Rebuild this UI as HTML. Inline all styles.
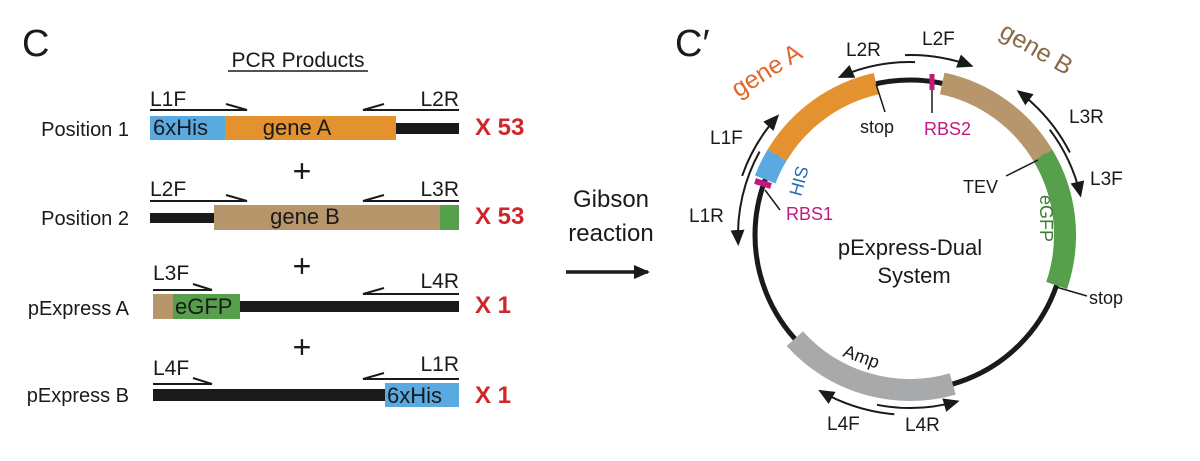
<!DOCTYPE html>
<html><head><meta charset="utf-8"><style>
html,body{margin:0;padding:0;background:#fff;}
svg{display:block;font-family:"Liberation Sans",sans-serif;}
</style></head><body>
<svg width="1200" height="461" viewBox="0 0 1200 461" xmlns="http://www.w3.org/2000/svg">
<defs>
<marker id="ah" markerUnits="userSpaceOnUse" markerWidth="16" markerHeight="14" refX="14" refY="7" orient="auto">
<path d="M0,0 L16,7 L0,14 Z" fill="#1a1a1a"/>
</marker>
</defs>
<!-- Left panel -->
<text x="22" y="56" font-size="38" fill="#1a1a1a">C</text>
<text x="298" y="67" font-size="21" text-anchor="middle" fill="#1a1a1a">PCR Products</text>
<line x1="228" y1="71" x2="368" y2="71" stroke="#1a1a1a" stroke-width="1.5"/>

<g font-size="20" fill="#1a1a1a" text-anchor="end">
<text x="129" y="136">Position 1</text>
<text x="129" y="225">Position 2</text>
<text x="129" y="315">pExpress A</text>
<text x="129" y="402">pExpress B</text>
</g>
<g font-size="21" fill="#1a1a1a">
<text x="150" y="106">L1F</text>
<text x="459" y="106" text-anchor="end">L2R</text>
<text x="150" y="196">L2F</text>
<text x="459" y="196" text-anchor="end">L3R</text>
<text x="153" y="280">L3F</text>
<text x="459" y="288" text-anchor="end">L4R</text>
<text x="153" y="375">L4F</text>
<text x="459" y="371" text-anchor="end">L1R</text>
</g>
<g stroke="#1a1a1a" stroke-width="2" fill="none">
<path d="M150,110 H247 L226,104"/>
<path d="M459,110 H363 L384,104"/>
<path d="M150,201 H247 L226,195"/>
<path d="M459,201 H363 L384,195"/>
<path d="M153,290 H212 L193,284"/>
<path d="M459,294 H363 L384,288"/>
<path d="M153,384 H212 L193,378"/>
<path d="M459,379 H363 L384,373"/>
</g>
<!-- Row 1 -->
<rect x="150" y="116" width="75" height="24" fill="#5aa9e0"/>
<rect x="225" y="116" width="171" height="24" fill="#e3922f"/>
<rect x="396" y="123" width="63" height="11" fill="#1a1a1a"/>
<text x="153" y="135" font-size="22" fill="#1a1a1a">6xHis</text>
<text x="297" y="135" font-size="22" text-anchor="middle" fill="#1a1a1a">gene A</text>
<!-- Row 2 -->
<rect x="150" y="213" width="64" height="10" fill="#1a1a1a"/>
<rect x="214" y="205" width="226" height="25" fill="#b8966c"/>
<rect x="440" y="205" width="19" height="25" fill="#56a04b"/>
<text x="305" y="224" font-size="22" text-anchor="middle" fill="#1a1a1a">gene B</text>
<!-- Row 3 -->
<rect x="153" y="294" width="20" height="25" fill="#b8966c"/>
<rect x="173" y="294" width="67" height="25" fill="#56a04b"/>
<rect x="240" y="301" width="219" height="11" fill="#1a1a1a"/>
<text x="175" y="314" font-size="22" fill="#1a1a1a">eGFP</text>
<!-- Row 4 -->
<rect x="153" y="389" width="232" height="12" fill="#1a1a1a"/>
<rect x="385" y="383" width="74" height="24" fill="#5aa9e0"/>
<text x="387" y="403" font-size="22" fill="#1a1a1a">6xHis</text>

<g font-size="24" font-weight="bold" fill="#d0262b">
<text x="475" y="135">X 53</text>
<text x="475" y="224">X 53</text>
<text x="475" y="313">X 1</text>
<text x="475" y="403">X 1</text>
</g>
<g font-size="32" fill="#1a1a1a" text-anchor="middle">
<text x="302" y="182">+</text>
<text x="302" y="277">+</text>
<text x="302" y="358">+</text>
</g>

<!-- Gibson -->
<text x="611" y="207" font-size="24" text-anchor="middle" fill="#1a1a1a">Gibson</text>
<text x="611" y="241" font-size="24" text-anchor="middle" fill="#1a1a1a">reaction</text>
<line x1="566" y1="272" x2="648" y2="272" stroke="#1a1a1a" stroke-width="3.5" marker-end="url(#ah)"/>

<!-- Right panel -->
<text x="675" y="56" font-size="38" fill="#1a1a1a">C′</text>
<circle cx="910" cy="235" r="155" fill="none" stroke="#1a1a1a" stroke-width="5"/>
<g fill="none" stroke-width="22">
<path d="M777.1,155.2 A155 155 0 0 1 876.2,83.7" stroke="#e3922f"/>
<path d="M765.2,179.5 A155 155 0 0 1 777.1,155.2" stroke="#5aa9e0"/>
<path d="M942.2,83.4 A155 155 0 0 1 1042.8,155.2" stroke="#b8966c"/>
<path d="M1042.8,155.2 A155 155 0 0 1 1056.6,285.5" stroke="#56a04b"/>
<path d="M952.7,384.0 A155 155 0 0 1 794.8,338.7" stroke="#a8a9ab"/>
</g>
<line x1="755" y1="181" x2="771" y2="186" stroke="#c2197f" stroke-width="6"/>
<line x1="932" y1="74" x2="932" y2="90" stroke="#c2197f" stroke-width="5"/>
<g stroke="#1a1a1a" stroke-width="1.5">
<line x1="876" y1="84" x2="885" y2="112"/>
<line x1="932" y1="90" x2="932" y2="113"/>
<line x1="765" y1="190" x2="780" y2="210"/>
<line x1="1038" y1="160" x2="1006" y2="176"/>
<line x1="1056" y1="287" x2="1087" y2="296"/>
</g>
<g font-size="18" fill="#1a1a1a">
<text x="860" y="133">stop</text>
<text x="963" y="193">TEV</text>
<text x="1089" y="304">stop</text>
</g>
<g font-size="18" fill="#c2197f">
<text x="924" y="135">RBS2</text>
<text x="786" y="220">RBS1</text>
</g>
<text transform="translate(801,197) rotate(-75)" font-size="18" fill="#2b6cb8">HIS</text>
<text transform="translate(1040,195) rotate(90)" font-size="18" fill="#3a7d33">eGFP</text>
<text transform="translate(842,356) rotate(20)" font-size="18" fill="#1a1a1a">Amp</text>
<text transform="translate(738,98) rotate(-32)" font-size="25" fill="#e0692a">gene A</text>
<text transform="translate(998,36) rotate(30)" font-size="25" fill="#8b6a4a">gene B</text>
<text x="910" y="255" font-size="22" text-anchor="middle" fill="#1a1a1a">pExpress-Dual</text>
<text x="914" y="283" font-size="22" text-anchor="middle" fill="#1a1a1a">System</text>

<g fill="none" stroke="#1a1a1a" stroke-width="2" marker-end="url(#ah)">
<path d="M915.1,62.1 A173 173 0 0 0 839.6,77"/>
<path d="M905.0,55.1 A180 180 0 0 1 971.6,65.9"/>
<path d="M1069.9,152.5 A180 180 0 0 0 1018.3,91.3"/>
<path d="M1049.8,129.7 A175 175 0 0 1 1080.5,195.6"/>
<path d="M742.1,175.9 A178 178 0 0 1 777.7,115.9"/>
<path d="M759.6,151.6 A172 172 0 0 0 738.2,244.0"/>
<path d="M894.3,414.3 A180 180 0 0 1 820,390.9"/>
<path d="M877.0,404.8 A173 173 0 0 0 957.7,401.3"/>
</g>
<g font-size="19" fill="#1a1a1a">
<text x="846" y="56">L2R</text>
<text x="922" y="45">L2F</text>
<text x="1069" y="123">L3R</text>
<text x="1090" y="185">L3F</text>
<text x="710" y="144">L1F</text>
<text x="689" y="222">L1R</text>
<text x="827" y="430">L4F</text>
<text x="905" y="431">L4R</text>
</g>
</svg>
</body></html>
